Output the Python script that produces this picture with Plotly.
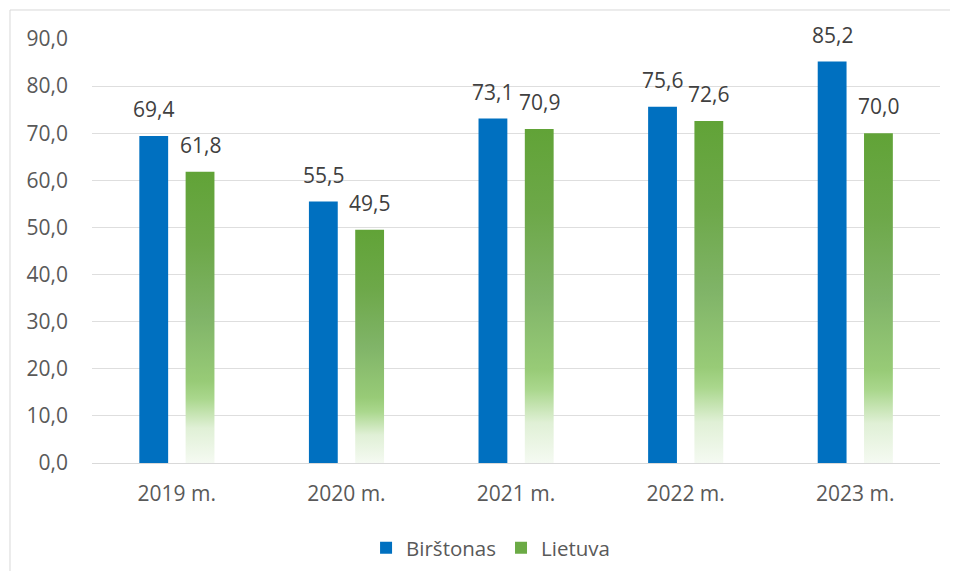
import plotly.graph_objects as go

categories = ["2019 m.", "2020 m.", "2021 m.", "2022 m.", "2023 m."]
birstonas = [69.4, 55.5, 73.1, 75.6, 85.2]
lietuva = [61.8, 49.5, 70.9, 72.6, 70.0]
series_names = ["Birštonas", "Lietuva"]

BLUE = "#0070C0"
GREEN = "#6BAA45"
GREEN_SCALE = [
    [0.0, "#F5FAF2"],
    [0.12, "#E0F0D6"],
    [0.22, "#AAD78D"],
    [0.28, "#98CB77"],
    [0.5, "#80B468"],
    [0.75, "#6DA849"],
    [1.0, "#61A337"],
]

BAR_W = 0.17
BLUE_OFF = -0.221
GREEN_OFF = 0.052
FONT = "Open Sans"
FS = 21

def fmt(v):
    return f"{v:.1f}".replace(".", ",")

xs = list(range(len(categories)))
fig = go.Figure()

fig.add_trace(go.Bar(
    x=xs, y=birstonas, width=BAR_W, offset=BLUE_OFF,
    marker=dict(color=BLUE, line=dict(width=0)),
    name=series_names[0], hoverinfo="skip",
))

# Gradient-filled bars for Lietuva
for i, v in enumerate(lietuva):
    x0 = i + GREEN_OFF
    x1 = x0 + BAR_W
    fig.add_trace(go.Scatter(
        x=[x0, x0, x1, x1, x0], y=[0, v, v, 0, 0],
        mode="lines", fill="toself",
        line=dict(width=0, color="rgba(0,0,0,0)"),
        fillgradient=dict(type="vertical", colorscale=GREEN_SCALE, start=0, stop=v),
        showlegend=False, hoverinfo="skip",
    ))

# legend entry for Lietuva
fig.add_trace(go.Bar(
    x=[None], y=[None], name=series_names[1],
    marker=dict(color=GREEN, line=dict(width=0)),
))

annotations = []
for i, v in enumerate(birstonas):
    annotations.append(dict(x=i + BLUE_OFF + BAR_W / 2, y=v, text=fmt(v), showarrow=False,
                            xanchor="center", yanchor="bottom", yshift=11,
                            font=dict(family=FONT, size=FS, color="#404040")))
for i, v in enumerate(lietuva):
    annotations.append(dict(x=i + GREEN_OFF + BAR_W / 2, y=v, text=fmt(v), showarrow=False,
                            xanchor="center", yanchor="bottom", yshift=11,
                            font=dict(family=FONT, size=FS, color="#404040")))

fig.update_layout(
    width=942, height=563,
    margin=dict(l=84, r=10, t=31, b=108, autoexpand=False),
    paper_bgcolor="white", plot_bgcolor="white",
    separators=",.",
    barmode="overlay",
    font=dict(family=FONT, size=FS, color="#595959"),
    annotations=annotations,
    legend=dict(orientation="h", x=0.47, xanchor="center", y=-0.2, yanchor="middle",
                font=dict(family=FONT, size=20.5, color="#595959"),
                itemwidth=30, traceorder="normal"),
    xaxis=dict(tickvals=xs, ticktext=categories, range=[-0.5, 4.5],
               showgrid=False, zeroline=False, showline=True, linecolor="#D9D9D9",
               linewidth=1, ticks="", ticklabelstandoff=12, fixedrange=True),
    yaxis=dict(range=[0, 90], dtick=10, tickformat=".1f", showgrid=True,
               gridcolor="#DEDEDE", gridwidth=1, zeroline=False, showline=False,
               ticks="", ticklabelstandoff=23, fixedrange=True),
    shapes=[dict(type="rect", xref="paper", yref="paper",
                 x0=-0.0967, x1=1.05, y0=-0.35, y1=1.0684,
                 line=dict(color="#D9D9D9", width=1), fillcolor="rgba(0,0,0,0)",
                 layer="below")],
)

fig.write_html("out.html")
